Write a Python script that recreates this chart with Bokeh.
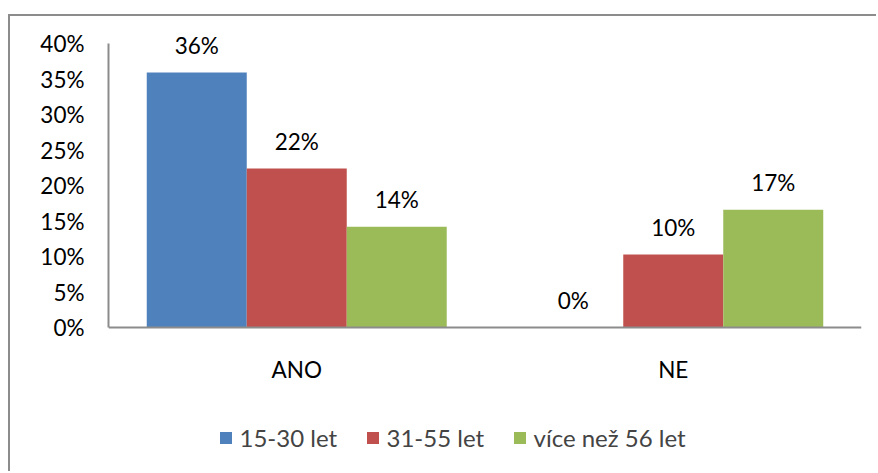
from bokeh.plotting import figure
from bokeh.models import (ColumnDataSource, FactorRange, Range1d, FixedTicker,
                          NumeralTickFormatter, Legend, LegendItem)
from bokeh.transform import dodge
from bokeh.core.properties import value
from bokeh.embed import file_html
from bokeh.resources import INLINE

categories = ["ANO", "NE"]
series_names = ["15-30 let", "31-55 let", "více než 56 let"]
s_15_30 = [0.359, 0.0]
s_31_55 = [0.224, 0.103]
s_56_plus = [0.142, 0.166]
y_ticks = [0.0, 0.05, 0.10, 0.15, 0.20, 0.25, 0.30, 0.35, 0.40]

colors = ["#4F81BD", "#C0504D", "#9BBB59"]
FONT = "Lato"
FS = "22.5px"
AXIS_MAX = 0.40
Y_MAX = 0.4324    # headroom above the axis for the value labels
Y_MIN = -0.2056   # blank room under the axis for category labels and legend

p = figure(width=868, height=457,
           x_range=FactorRange(factors=categories, range_padding=0),
           y_range=Range1d(Y_MIN, Y_MAX),
           output_backend="svg", toolbar_location=None,
           min_border_left=98, min_border_right=17,
           min_border_top=4, min_border_bottom=0)
p.styles = {"margin-left": "7.5px", "margin-top": "13.5px",
            "border-left": "2.5px solid #8c8c8c",
            "border-top": "2.5px solid #8c8c8c"}
p.outline_line_color = None
p.xgrid.grid_line_color = None
p.ygrid.grid_line_color = None
p.background_fill_color = "white"
p.border_fill_color = "white"

w = 0.2656
offsets = [-w, 0.0, w]
items = []
for name, vals, col, off in zip(series_names, [s_15_30, s_31_55, s_56_plus], colors, offsets):
    src = ColumnDataSource(dict(x=categories, y=vals,
                                label=[f"{round(v * 100)}%" for v in vals]))
    r = p.vbar(x=dodge("x", off, range=p.x_range), top="y", width=w,
               fill_color=col, line_color=None, source=src)
    p.text(x=dodge("x", off, range=p.x_range), y="y", text="label", source=src,
           text_align="center", text_baseline="alphabetic", y_offset=-27,
           text_font=value(FONT), text_font_size=FS, text_color="black")
    items.append(LegendItem(label=name, renderers=[r]))

for ax in (p.xaxis, p.yaxis):
    ax.axis_line_color = "#8c8c8c"
    ax.axis_line_width = 2
    ax.major_tick_line_color = None
    ax.minor_tick_line_color = None
    ax.major_label_text_font = FONT
    ax.major_label_text_font_size = FS
    ax.major_label_text_color = "black"

p.xaxis.fixed_location = 0
p.xaxis.major_label_standoff = 22
p.yaxis.major_label_standoff = 18
p.yaxis.bounds = (0, AXIS_MAX)
p.yaxis.ticker = FixedTicker(ticks=y_ticks)
p.yaxis.formatter = NumeralTickFormatter(format="0%")

legend = Legend(items=items, orientation="horizontal", location=(110, 21),
                glyph_width=15, glyph_height=15, label_standoff=7, spacing=0,
                label_width=125, padding=0, margin=0, border_line_color=None,
                background_fill_alpha=0, label_text_font=FONT,
                label_text_font_size="24px", label_height=22)
p.add_layout(legend)

open("out.html", "w").write(file_html(p, INLINE))
